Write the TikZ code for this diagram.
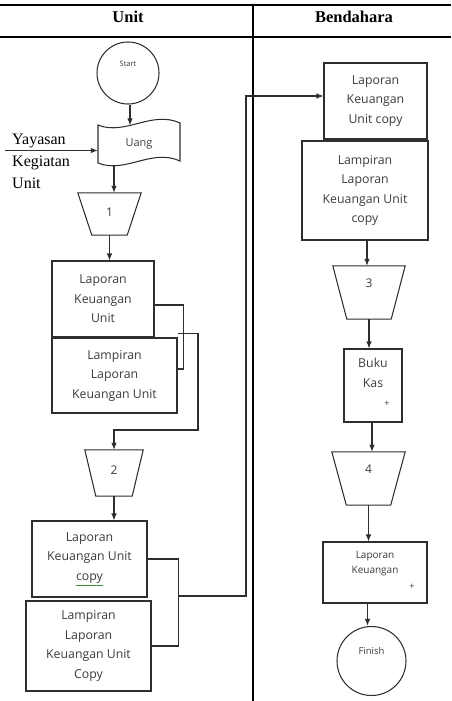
\documentclass[tikz,border=0pt]{standalone}
\usepackage{fontspec}
\setmainfont{Liberation Serif}
\newfontfamily\boxfont{Open Sans}
\usetikzlibrary{arrows.meta}
\definecolor{ink}{HTML}{2E2E2E}
\definecolor{txt}{HTML}{3C3C3C}
\definecolor{spell}{HTML}{3E8E3E}
% trapezoid (manual operation) drawn around a named node
\newcommand\trapdraw[2]{\draw[line] (#1.north west) -- (#1.north east)
  -- ([xshift=-#2pt]#1.south east) -- ([xshift=#2pt]#1.south west) -- cycle;}
\begin{document}
\begin{tikzpicture}[x=1pt,y=-1pt,
  frame/.style={draw=black,line width=1.1pt},
  line/.style={draw=ink,line width=1.05pt},
  arr/.style={line,-{Latex[length=7pt,width=5.5pt]}},
  head/.style={font=\bfseries\fontsize{16.5}{18}\selectfont,anchor=base,inner sep=0pt},
  ext/.style={font=\fontsize{16}{18}\selectfont,anchor=base west,inner sep=0pt},
  proc/.style={line,rectangle,inner sep=0pt,align=center,text=txt,
    font=\boxfont\fontsize{12.3}{19.5}\selectfont},
  small/.style={font=\boxfont\fontsize{10}{15}\selectfont},
  term/.style={line,circle,inner sep=0pt},
  termtext/.style={text=txt,font=\boxfont\fontsize{#1}{10}\selectfont},
  trap/.style={inner sep=0pt,draw=none},
  num/.style={text=txt,font=\boxfont\fontsize{12}{14}\selectfont},
  plus/.style={text=txt,font=\boxfont\fontsize{9}{10}\selectfont,inner sep=0pt}]
\useasboundingbox (0,0) rectangle (451,701);
\fill[white] (0,0) rectangle (451,701);

% swimlane frame
\draw[frame] (0,5) -- (451,5);
\draw[frame] (0,37) -- (451,37);
\draw[frame] (253,5) -- (253,701);
\node[head] (hunit) at (128,23) {Unit};
\node[head] (hbend) at (354,23) {Bendahara};

% ---------- Unit lane ----------
\node[term,minimum size=62pt,label={[termtext=7.5,yshift=9pt]center:Start}] (start) at (128,73) {};

\node[inner sep=0pt,minimum width=82pt,minimum height=36pt,text=txt,
  font=\boxfont\fontsize{11}{12}\selectfont] (uang) at (139,144) {Uang};
\draw[line] (98,125) .. controls (125,136) and (152,110) .. (180,123)
  -- (180,161) .. controls (152,148) and (125,174) .. (98,163) -- cycle;
\coordinate (uin) at (130,125.3);
\coordinate (uout) at (114,165.8);

\node[ext] (yy1) at (12,144) {Yayasan};
\node[ext] (yy2) at (12,166) {Kegiatan};
\node[ext] (yy3) at (12,188) {Unit};
\coordinate (yin) at (5,150.5);

\node[trap,minimum width=63pt,minimum height=42pt,
  label={[num,yshift=2pt]center:1}] (t1) at (109.5,214) {};
\trapdraw{t1}{14}

\node[proc,minimum width=102pt,minimum height=76pt] (lku) at (103,299)
  {Laporan\\Keuangan\\Unit};
\node[proc,minimum width=125pt,minimum height=75pt] (lampu) at (114.5,375.5)
  {Lampiran\\Laporan\\Keuangan Unit};

\node[trap,minimum width=58pt,minimum height=46pt,
  label={[num,yshift=3pt]center:2}] (t2) at (114,473) {};
\trapdraw{t2}{11}

\node[proc,minimum width=115pt,minimum height=76pt] (lkuc) at (89.5,559)
  {Laporan\\Keuangan Unit\\{\color{spell}\underline{\color{txt}copy}}};
\node[proc,minimum width=125pt,minimum height=90pt] (lampc) at (88.5,646)
  {Lampiran\\Laporan\\Keuangan Unit\\Copy};

\coordinate (c2) at (198,430);
\coordinate (c4) at (178,596);
\coordinate (c5) at (246,596);

% ---------- Bendahara lane ----------
\node[proc,minimum width=103pt,minimum height=76pt] (r1) at (375.5,101)
  {Laporan\\Keuangan\\Unit copy};
\node[proc,minimum width=126pt,minimum height=99pt] (r2) at (365,190.5)
  {Lampiran\\Laporan\\Keuangan Unit\\copy};

\node[trap,minimum width=72pt,minimum height=53pt,
  label={[num,yshift=9pt]center:3}] (t3) at (369,292.5) {};
\trapdraw{t3}{14}

\node[proc,minimum width=58pt,minimum height=73pt,
  label={[plus,xshift=14pt,yshift=-18.5pt]center:+}] (buku) at (373,385.5)
  {Buku\\Kas\\\strut};

\node[trap,minimum width=73pt,minimum height=53pt,
  label={[num,yshift=9.5pt]center:4}] (t4) at (368.5,478.5) {};
\trapdraw{t4}{14.5}

\node[proc,small,minimum width=104pt,minimum height=61pt,
  label={[plus,xshift=37pt,yshift=-14.5pt]center:+}] (lk) at (375,572.5)
  {Laporan\\Keuangan\\\strut};

\node[term,minimum size=69pt,label={[termtext=9.5,yshift=10pt]center:Finish}] (finish) at (371.5,661) {};

% ---------- connectors ----------
\draw[arr] (uin |- start.south) -- (uin);
\draw[arr] (yin) -- (yin -| uang.west);
\draw[arr] (uout) -- (uout |- t1.north);
\draw[arr] (t1.south) -- (t1.south |- lku.north);
\draw[line] ([yshift=-6pt]lku.east) -- ++(29,0) |- ([yshift=6.5pt]lampu.east);
\draw[arr] ([yshift=4pt]lampu.north east) -| (c2) -| (t2.north);
\draw[arr] (t2.south) -- (t2.south |- lkuc.north);
\draw[line] (lkuc.east) -- ++(31,0) |- (lampc.east);
\draw[arr] (c4) -- (c5) |- ([yshift=5pt]r1.west);

\draw[arr] ([xshift=2pt]r2.south) -- ([xshift=2pt]r2.south |- t3.north);
\draw[arr] (t3.south) -- (t3.south |- buku.north);
\draw[arr] ([xshift=-1pt]buku.south) -- ([xshift=-1pt]buku.south |- t4.north);
\draw[arr] (t4.south) -- (t4.south |- lk.north);
\draw[arr,line width=1.6pt] ([xshift=-4pt]finish.north |- lk.south) -- ([xshift=-4pt]finish.north);
\end{tikzpicture}
\end{document}
